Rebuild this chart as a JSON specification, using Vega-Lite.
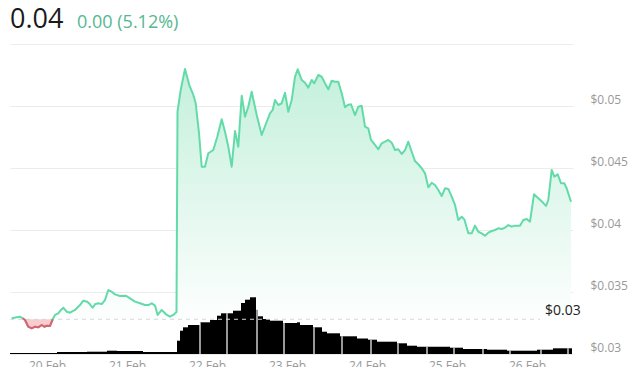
{
  "$schema": "https://vega.github.io/schema/vega-lite/v6.json",
  "width": 563,
  "height": 310,
  "autosize": {"type": "none"},
  "padding": {"left": 10, "top": 44, "right": 67, "bottom": 13},
  "background": "white",
  "config": {
    "view": {"stroke": null},
    "font": "Open Sans",
    "axisX": {"grid": false, "domain": false, "ticks": false, "labelPadding": 6, "labelColor": "#999999", "labelFontSize": 12, "title": null}
  },
  "datasets": {
    "price": [
      {"h":-10.59,"v":0.03288},{"h":-9.09,"v":0.03296},{"h":-8.1,"v":0.03301},
      {"h":-7.29,"v":0.03288,"down":true},{"h":-6.6,"v":0.03274,"down":true},{"h":-5.61,"v":0.0322,"down":true},
      {"h":-4.59,"v":0.03207,"down":true},{"h":-3.6,"v":0.0322,"down":true},{"h":-2.61,"v":0.03215,"down":true},
      {"h":-1.59,"v":0.03234,"down":true},{"h":-0.81,"v":0.0322,"down":true},{"h":-0.09,"v":0.03228,"down":true},
      {"h":0.9,"v":0.03226,"down":true},{"h":1.71,"v":0.0328,"down":true},
      {"h":2.4,"v":0.03315},{"h":3.39,"v":0.03328},{"h":4.2,"v":0.03355},{"h":4.89,"v":0.03373},
      {"h":5.91,"v":0.03341},{"h":6.9,"v":0.03333},{"h":8.4,"v":0.03355},{"h":9.9,"v":0.03395},
      {"h":10.89,"v":0.0343},{"h":12.09,"v":0.03422},{"h":12.9,"v":0.03401},{"h":13.71,"v":0.03373},
      {"h":14.4,"v":0.03401},{"h":15.39,"v":0.03409},{"h":16.41,"v":0.03403},{"h":17.4,"v":0.03435},
      {"h":18.39,"v":0.03516},{"h":19.41,"v":0.03502},{"h":20.4,"v":0.03481},{"h":21.9,"v":0.03468},
      {"h":23.7,"v":0.0347},{"h":24.9,"v":0.03449},{"h":26.4,"v":0.03422},{"h":27.9,"v":0.03409},
      {"h":29.4,"v":0.03395},{"h":30.39,"v":0.03395},{"h":31.41,"v":0.03409},{"h":32.4,"v":0.0339},
      {"h":33.21,"v":0.03315},{"h":34.41,"v":0.03355},{"h":35.7,"v":0.0332},{"h":36.9,"v":0.03301},
      {"h":37.89,"v":0.03315},{"h":38.85,"v":0.03339},
      {"h":39.15,"v":0.04954},{"h":40.11,"v":0.05129},{"h":41.4,"v":0.05298},{"h":42.69,"v":0.05169},
      {"h":43.89,"v":0.05089},{"h":44.61,"v":0.05022},{"h":45.6,"v":0.04782},{"h":46.41,"v":0.0451},
      {"h":47.4,"v":0.0451},{"h":48.39,"v":0.04619},{"h":49.89,"v":0.04645},{"h":51.09,"v":0.04752},
      {"h":52.41,"v":0.04893},{"h":53.4,"v":0.04793},{"h":54.39,"v":0.04672},{"h":55.41,"v":0.0451},
      {"h":56.4,"v":0.04798},{"h":57.39,"v":0.04672},{"h":58.41,"v":0.05083},{"h":59.4,"v":0.04914},
      {"h":60.39,"v":0.04994},{"h":61.41,"v":0.05115},{"h":62.91,"v":0.04927},{"h":64.41,"v":0.04766},
      {"h":65.91,"v":0.04873},{"h":66.9,"v":0.04941},{"h":67.71,"v":0.04968},{"h":68.4,"v":0.05048},
      {"h":69.39,"v":0.05008},{"h":70.41,"v":0.05022},{"h":71.4,"v":0.05107},{"h":72.39,"v":0.04954},
      {"h":73.41,"v":0.05048},{"h":74.4,"v":0.05236},{"h":75.21,"v":0.05296},{"h":76.41,"v":0.0521},
      {"h":77.4,"v":0.05188},{"h":78.39,"v":0.05148},{"h":79.41,"v":0.0521},{"h":80.19,"v":0.05183},
      {"h":81.39,"v":0.0525},{"h":82.41,"v":0.05236},{"h":83.4,"v":0.05183},{"h":84.39,"v":0.05135},
      {"h":85.41,"v":0.05204},{"h":86.4,"v":0.05196},{"h":87.39,"v":0.05196},{"h":88.41,"v":0.05102},
      {"h":89.4,"v":0.0499},{"h":90.21,"v":0.05008},{"h":91.2,"v":0.05014},{"h":92.4,"v":0.04927},
      {"h":93.39,"v":0.04994},{"h":94.41,"v":0.05002},{"h":95.4,"v":0.04833},{"h":96.39,"v":0.0482},
      {"h":97.2,"v":0.04726},{"h":98.4,"v":0.04686},{"h":99.39,"v":0.04651},{"h":100.41,"v":0.04699},
      {"h":101.4,"v":0.04712},{"h":102.39,"v":0.04726},{"h":103.41,"v":0.04704},{"h":104.4,"v":0.04645},
      {"h":105.39,"v":0.04651},{"h":106.41,"v":0.04613},{"h":107.4,"v":0.04645},{"h":108.39,"v":0.04712},
      {"h":109.41,"v":0.04631},{"h":110.4,"v":0.04556},{"h":111.39,"v":0.0453},{"h":112.41,"v":0.04498},
      {"h":113.4,"v":0.04457},{"h":114.39,"v":0.04344},{"h":115.41,"v":0.04381},{"h":116.4,"v":0.04363},
      {"h":117.39,"v":0.04323},{"h":118.41,"v":0.04274},{"h":119.4,"v":0.04336},{"h":120.39,"v":0.04331},
      {"h":121.41,"v":0.04269},{"h":122.4,"v":0.04202},{"h":123.39,"v":0.04081},{"h":124.41,"v":0.04107},
      {"h":125.19,"v":0.04086},{"h":126.39,"v":0.03973},{"h":127.41,"v":0.03973},{"h":128.4,"v":0.04035},
      {"h":129.39,"v":0.03986},{"h":130.41,"v":0.03973},{"h":131.4,"v":0.03954},{"h":132.39,"v":0.03978},
      {"h":133.41,"v":0.03992},{"h":134.4,"v":0.04},{"h":135.39,"v":0.04014},{"h":136.41,"v":0.04008},
      {"h":137.4,"v":0.04019},{"h":138.39,"v":0.0404},{"h":139.41,"v":0.04027},{"h":140.4,"v":0.04035},
      {"h":141.9,"v":0.04035},{"h":142.89,"v":0.04081},{"h":143.91,"v":0.04089},{"h":144.9,"v":0.04067},
      {"h":146.1,"v":0.04288},{"h":147.39,"v":0.04256},{"h":148.71,"v":0.04223},{"h":149.7,"v":0.04194},
      {"h":150.39,"v":0.04242},{"h":151.41,"v":0.04484},{"h":152.19,"v":0.0443},{"h":153.21,"v":0.04449},
      {"h":154.2,"v":0.04377},{"h":155.19,"v":0.04377},{"h":155.91,"v":0.04336},{"h":157.2,"v":0.04228}
    ],
    "vol": [
      {"h0":-11.1,"h1":3.0,"vol":1},{"h0":3.0,"h1":12.0,"vol":2},{"h0":12.0,"h1":18.0,"vol":2.3},
      {"h0":18.0,"h1":21.0,"vol":3.3},{"h0":21.0,"h1":28.8,"vol":3},{"h0":28.8,"h1":39.0,"vol":2},
      {"h0":39.0,"h1":39.9,"vol":13.3},{"h0":39.9,"h1":40.8,"vol":23.3},{"h0":40.8,"h1":42.3,"vol":26.7},
      {"h0":42.3,"h1":45.9,"vol":29},{"h0":45.9,"h1":48.9,"vol":31.7},{"h0":48.9,"h1":51.0,"vol":34},
      {"h0":51.0,"h1":52.2,"vol":38.3},{"h0":52.2,"h1":55.8,"vol":40.7},{"h0":55.8,"h1":58.2,"vol":43.3},
      {"h0":58.2,"h1":59.4,"vol":51},{"h0":59.4,"h1":60.9,"vol":54.3},{"h0":60.9,"h1":62.7,"vol":56.7},
      {"h0":62.7,"h1":63.3,"vol":44.3},{"h0":63.3,"h1":64.8,"vol":37.7},{"h0":64.8,"h1":66.9,"vol":35},
      {"h0":66.9,"h1":70.8,"vol":33.3},{"h0":70.8,"h1":75.0,"vol":31},{"h0":75.0,"h1":75.9,"vol":31.7},
      {"h0":75.9,"h1":79.8,"vol":29},{"h0":79.8,"h1":82.5,"vol":26.7},{"h0":82.5,"h1":84.0,"vol":22.3},
      {"h0":84.0,"h1":87.9,"vol":20.7},{"h0":87.9,"h1":93.0,"vol":17.7},{"h0":93.0,"h1":96.3,"vol":15.5},
      {"h0":96.3,"h1":99.0,"vol":14.3},{"h0":99.0,"h1":105.0,"vol":12.3},{"h0":105.0,"h1":108.0,"vol":10.7},
      {"h0":108.0,"h1":111.0,"vol":8.3},{"h0":111.0,"h1":120.9,"vol":7.3},{"h0":120.9,"h1":124.8,"vol":6.3},
      {"h0":124.8,"h1":132.0,"vol":5},{"h0":132.0,"h1":138.0,"vol":4.3},{"h0":138.0,"h1":147.0,"vol":3.3},
      {"h0":147.0,"h1":151.8,"vol":4.3},{"h0":151.8,"h1":157.5,"vol":5.7}
    ],
    "sep": [
      {"h":45.9,"vol":31.7},{"h":54.0,"vol":40.7},{"h":63.0,"vol":56.7},{"h":71.1,"vol":31},
      {"h":80.1,"vol":26.7},{"h":88.5,"vol":17.7},{"h":97.2,"vol":14.3},{"h":105.3,"vol":10.7},
      {"h":114.0,"vol":7.3},{"h":122.1,"vol":6.3},{"h":130.8,"vol":5},{"h":138.9,"vol":3.3},
      {"h":148.2,"vol":4.3},{"h":156.3,"vol":5.7}
    ],
    "ref": [{"h0":-11.1,"h1":147.9,"hl":149.4,"v":0.0328,"label":"$0.03"}],
    "head1": [{"h":-11.1,"v":0.05629,"t":"0.04"}],
    "head2": [{"h":9.0,"v":0.05629,"t":"0.00 (5.12%)"}]
  },
  "resolve": {"scale": {"y": "independent"}, "axis": {"y": "independent"}},
  "layer": [
    {
      "data": {"name": "price"},
      "mark": {"type": "area", "opacity": 1, "color": {"gradient": "linear", "x1": 0, "y1": 0, "x2": 0, "y2": 1, "stops": [{"offset": 0, "color": "#c4f0dc"}, {"offset": 1, "color": "#ffffff"}]}},
      "encoding": {
        "x": {"field": "h", "type": "quantitative", "title": null, "scale": {"domain": [-11.1, 157.8], "nice": false, "zero": false},
          "axis": {"values": [0, 24, 48, 72, 96, 120, 144], "labelExpr": "['20 Feb','21 Feb','22 Feb','23 Feb','24 Feb','25 Feb','26 Feb'][round(datum.value/24)]"}},
        "y": {"field": "v", "type": "quantitative", "scale": {"domain": [0.03, 0.055], "nice": false, "zero": false},
          "axis": {"orient": "right", "values": [0.03, 0.035, 0.04, 0.045, 0.05, 0.055], "labelExpr": "datum.value > 0.0545 ? '' : '$' + format(datum.value, '.3~f')", "grid": true, "gridColor": "#ececec", "domain": false, "ticks": false, "labelPadding": 17, "labelAlign": "left", "labelBaseline": "bottom", "labelColor": "#999999", "labelFontSize": 12, "title": null}},
        "y2": {"datum": 0.0328}
      }
    },
    {
      "data": {"name": "price"},
      "transform": [{"filter": "datum.down"}],
      "mark": {"type": "area", "opacity": 1, "color": "#f9ccd0"},
      "encoding": {
        "x": {"field": "h", "type": "quantitative", "title": null},
        "y": {"field": "v", "type": "quantitative", "scale": {"domain": [0.03, 0.055], "nice": false, "zero": false}, "axis": null},
        "y2": {"datum": 0.0328}
      }
    },
    {
      "data": {"name": "vol"},
      "mark": {"type": "rect", "color": "#000000"},
      "encoding": {
        "x": {"field": "h0", "type": "quantitative", "title": null},
        "x2": {"field": "h1"},
        "y": {"field": "vol", "type": "quantitative", "scale": {"domain": [0, 310], "nice": false}, "axis": null},
        "y2": {"datum": 0}
      }
    },
    {
      "data": {"name": "sep"},
      "mark": {"type": "rule", "color": "#ffffff", "strokeWidth": 1.2},
      "encoding": {
        "x": {"field": "h", "type": "quantitative", "title": null},
        "y": {"field": "vol", "type": "quantitative", "scale": {"domain": [0, 310], "nice": false}, "axis": null},
        "y2": {"datum": 0}
      }
    },
    {
      "data": {"name": "ref"},
      "mark": {"type": "rule", "color": "#d6d6d6", "strokeWidth": 1, "strokeDash": [4, 4]},
      "encoding": {
        "x": {"field": "h0", "type": "quantitative", "title": null},
        "x2": {"field": "h1"},
        "y": {"field": "v", "type": "quantitative", "scale": {"domain": [0.03, 0.055], "nice": false, "zero": false}, "axis": null}
      }
    },
    {
      "data": {"name": "price"},
      "mark": {"type": "line", "color": "#62dba8", "strokeWidth": 2, "strokeJoin": "round"},
      "encoding": {
        "x": {"field": "h", "type": "quantitative", "title": null},
        "y": {"field": "v", "type": "quantitative", "scale": {"domain": [0.03, 0.055], "nice": false, "zero": false}, "axis": null}
      }
    },
    {
      "data": {"name": "price"},
      "transform": [{"filter": "datum.down"}],
      "mark": {"type": "line", "color": "#e0606e", "strokeWidth": 2, "strokeJoin": "round"},
      "encoding": {
        "x": {"field": "h", "type": "quantitative", "title": null},
        "y": {"field": "v", "type": "quantitative", "scale": {"domain": [0.03, 0.055], "nice": false, "zero": false}, "axis": null}
      }
    },
    {
      "data": {"name": "ref"},
      "mark": {"type": "text", "align": "left", "baseline": "bottom", "dy": -1, "fontSize": 14, "color": "#222222"},
      "encoding": {
        "x": {"field": "hl", "type": "quantitative", "title": null},
        "y": {"field": "v", "type": "quantitative", "scale": {"domain": [0.03, 0.055], "nice": false, "zero": false}, "axis": null},
        "text": {"field": "label"}
      }
    },
    {
      "data": {"name": "head1"},
      "mark": {"type": "text", "align": "left", "baseline": "alphabetic", "fontSize": 27, "color": "#1a1a1a"},
      "encoding": {
        "x": {"field": "h", "type": "quantitative", "title": null},
        "y": {"field": "v", "type": "quantitative", "scale": {"domain": [0.03, 0.055], "nice": false, "zero": false}, "axis": null},
        "text": {"field": "t"}
      }
    },
    {
      "data": {"name": "head2"},
      "mark": {"type": "text", "align": "left", "baseline": "alphabetic", "fontSize": 18, "color": "#55b893"},
      "encoding": {
        "x": {"field": "h", "type": "quantitative", "title": null},
        "y": {"field": "v", "type": "quantitative", "scale": {"domain": [0.03, 0.055], "nice": false, "zero": false}, "axis": null},
        "text": {"field": "t"}
      }
    }
  ]
}
